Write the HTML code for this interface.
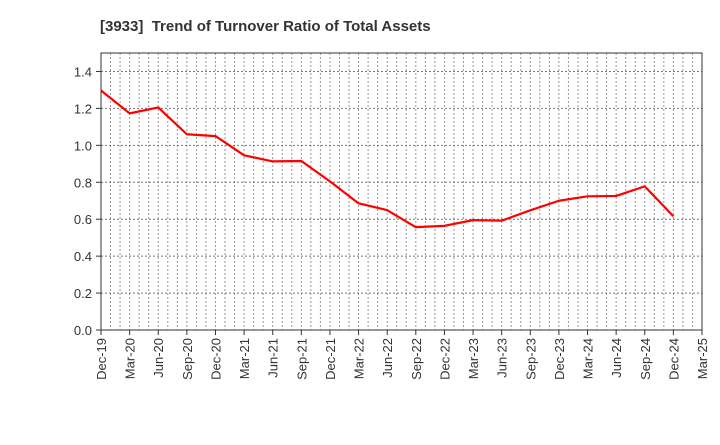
<!DOCTYPE html>
<html><head><meta charset="utf-8"><style>body{margin:0;background:#fff}svg{font-family:"Liberation Sans",sans-serif}</style></head>
<body>
<svg id="c" width="720" height="440">
<text x="100" y="31" font-size="15" font-weight="bold" fill="#333" style="white-space:pre">[3933]  Trend of Turnover Ratio of Total Assets</text>
</svg>
<script>
const categories=["Dec-19","Mar-20","Jun-20","Sep-20","Dec-20","Mar-21","Jun-21","Sep-21","Dec-21","Mar-22","Jun-22","Sep-22","Dec-22","Mar-23","Jun-23","Sep-23","Dec-23","Mar-24","Jun-24","Sep-24","Dec-24","Mar-25"];
const values=[1.297,1.173,1.205,1.06,1.05,0.946,0.913,0.915,0.805,0.686,0.649,0.557,0.564,0.595,0.592,0.648,0.70,0.724,0.726,0.778,0.616];
const yTicks=[0,0.2,0.4,0.6,0.8,1.0,1.2,1.4];
const yLabels=["0.0","0.2","0.4","0.6","0.8","1.0","1.2","1.4"];
const NS="http://www.w3.org/2000/svg",svg=document.getElementById('c');
const L=101,R=702,T=53,B=330,yMax=1.5;
const x=i=>L+(R-L)*i/(categories.length-1);
const y=v=>B-(B-T)*v/yMax;
function mk(t,a){const e=document.createElementNS(NS,t);for(const k in a)e.setAttribute(k,a[k]);svg.appendChild(e);return e;}
for(let m=1;m<(categories.length-1)*3;m++){const xx=L+(R-L)*m/((categories.length-1)*3);
const g=mk('line',{x1:xx,x2:xx,y1:T,y2:B,stroke:'#999','stroke-dasharray':'2,2','stroke-width':1});
}
yTicks.forEach((v,i)=>{const yy=y(v);
if(v>0){const g=mk('line',{x1:L,x2:R,y1:yy,y2:yy,stroke:'#777','stroke-dasharray':'2,2','stroke-width':1});
}
const tk=mk('line',{x1:L-5,x2:L,y1:yy,y2:yy,stroke:'#333'});

const t=mk('text',{x:L-9,y:yy+5,'font-size':13,'text-anchor':'end',fill:'#333'});t.textContent=yLabels[i];
});
categories.forEach((c,i)=>{const xx=x(i);
const tk=mk('line',{x1:xx,x2:xx,y1:B,y2:B+5,stroke:'#333'});

const t=mk('text',{x:0,y:0,'font-size':13,'text-anchor':'end',fill:'#333',transform:`translate(${xx+5},${B+8}) rotate(-90)`});t.textContent=c;
});
const fr=mk('rect',{x:L,y:T,width:R-L,height:B-T,fill:'none',stroke:'#333','stroke-width':1});

const ln=mk('polyline',{points:values.map((v,i)=>x(i)+','+y(v)).join(' '),fill:'none',stroke:'#ff0000','stroke-width':2.2,'stroke-linejoin':'round'});

</script>
</body></html>
